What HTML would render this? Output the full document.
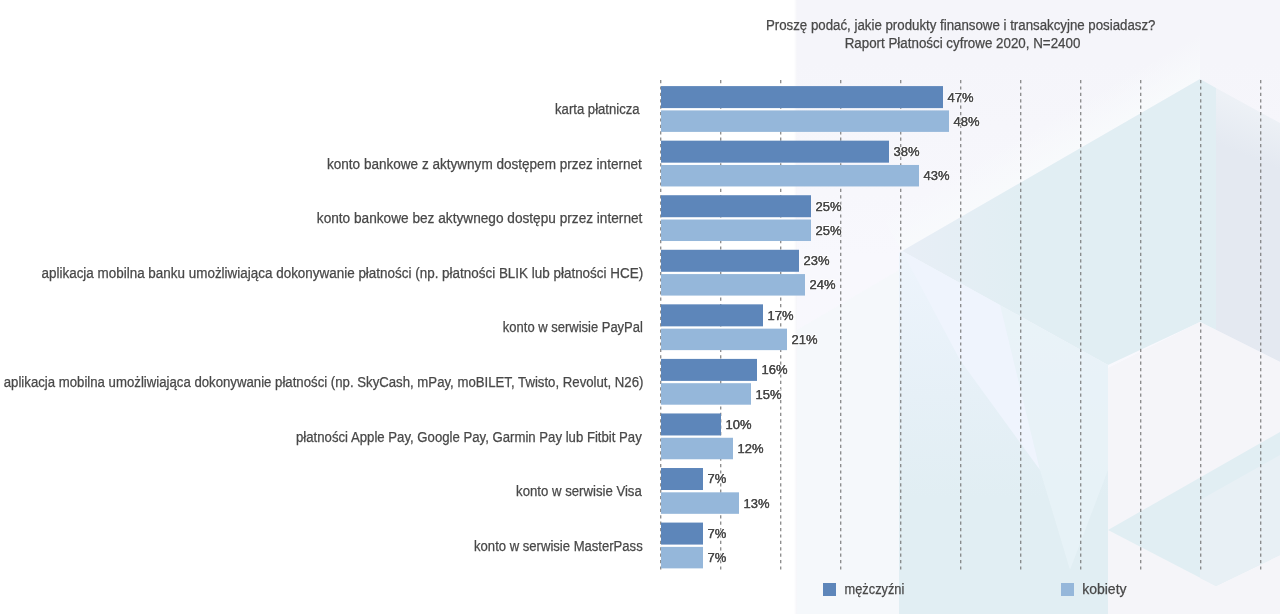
<!DOCTYPE html><html><head><meta charset="utf-8"><style>html,body{margin:0;padding:0;background:#fff;}body{width:1280px;height:614px;overflow:hidden;position:relative;}svg{position:absolute;left:0;top:0;will-change:transform;}text{font-family:"Liberation Sans",sans-serif;fill:#484848;stroke:#484848;stroke-width:0.25px;}text.v{stroke:#ffffff;stroke-width:2px;paint-order:stroke;stroke-opacity:0.8;}</style></head><body>
<svg width="1280" height="614" viewBox="0 0 1280 614">
<defs><linearGradient id="basegrad" x1="0" x2="0" y1="0" y2="1"><stop offset="0.1" stop-color="#f5f5fa"/><stop offset="0.42" stop-color="#f8f8fd"/><stop offset="1" stop-color="#f8f8fc"/></linearGradient><linearGradient id="edge" x1="0" x2="1" y1="0" y2="0"><stop offset="0" stop-color="#ffffff"/><stop offset="1" stop-color="#f5f5f9"/></linearGradient><linearGradient id="hl" gradientUnits="userSpaceOnUse" x1="1031" y1="130.4" x2="1051" y2="165"><stop offset="0" stop-color="#f8fafc" stop-opacity="0"/><stop offset="1" stop-color="#f8fafc" stop-opacity="1"/></linearGradient><linearGradient id="rf" gradientUnits="userSpaceOnUse" x1="1250" y1="106" x2="1232" y2="150"><stop offset="0" stop-color="#edf1f6"/><stop offset="1" stop-color="#e4e9f1"/></linearGradient><linearGradient id="face" gradientUnits="userSpaceOnUse" x1="902" y1="0" x2="1020" y2="0"><stop offset="0" stop-color="#e8eef6"/><stop offset="1" stop-color="#e1eef3"/></linearGradient><linearGradient id="strip" gradientUnits="userSpaceOnUse" x1="0" y1="260" x2="0" y2="600"><stop offset="0" stop-color="#edf4fc"/><stop offset="0.4" stop-color="#e6f0f7"/><stop offset="0.7" stop-color="#e1eef3"/></linearGradient></defs>
<rect x="0" y="0" width="1280" height="614" fill="#ffffff"/>
<rect x="797" y="0" width="483" height="614" fill="url(#basegrad)"/>
<rect x="794" y="0" width="3" height="614" fill="url(#edge)"/>
<g id="bgshapes"><polygon points="797,330 899,270 899,614 797,614" fill="#f4f9fa" opacity="0.6"/>
<polygon points="1200,79 902,251 882,216.4 1180,44.4 1200,30" fill="url(#hl)"/>
<polygon points="1200,79 902,251 1108,365 1200,322 1216,330 1216,88" fill="url(#face)"/>
<polygon points="1216,88 1280,123 1280,362 1216,330" fill="url(#rf)"/>
<polygon points="902,251 1108,365 1108,614 899,614 899,253" fill="url(#strip)"/>
<polygon points="1108,365 1108,470 1070,570 1040,470 1000,305" fill="#e9f3f8" opacity="0.8"/>
<polygon points="902,251 1000,305 1040,470 960,360" fill="#eff4fd"/>
<polygon points="1108,368 1200,322 1280,362 1280,614 1108,614" fill="#f5f5f9"/>
<polygon points="1108,530 1280,432 1280,555 1216,586" fill="#e1eef3"/>
<polygon points="1200,500 1280,455 1280,555 1216,586 1200,578" fill="#e8f0f5"/>
</g>
<line x1="660.75" y1="80" x2="660.75" y2="570" stroke="#747474" stroke-width="1.1" stroke-dasharray="3.2 3.2"/>
<line x1="720.75" y1="80" x2="720.75" y2="570" stroke="#747474" stroke-width="1.1" stroke-dasharray="3.2 3.2"/>
<line x1="780.75" y1="80" x2="780.75" y2="570" stroke="#747474" stroke-width="1.1" stroke-dasharray="3.2 3.2"/>
<line x1="840.75" y1="80" x2="840.75" y2="570" stroke="#747474" stroke-width="1.1" stroke-dasharray="3.2 3.2"/>
<line x1="900.75" y1="80" x2="900.75" y2="570" stroke="#747474" stroke-width="1.1" stroke-dasharray="3.2 3.2"/>
<line x1="960.75" y1="80" x2="960.75" y2="570" stroke="#747474" stroke-width="1.1" stroke-dasharray="3.2 3.2"/>
<line x1="1020.75" y1="80" x2="1020.75" y2="570" stroke="#747474" stroke-width="1.1" stroke-dasharray="3.2 3.2"/>
<line x1="1080.75" y1="80" x2="1080.75" y2="570" stroke="#747474" stroke-width="1.1" stroke-dasharray="3.2 3.2"/>
<line x1="1140.75" y1="80" x2="1140.75" y2="570" stroke="#747474" stroke-width="1.1" stroke-dasharray="3.2 3.2"/>
<line x1="1200.75" y1="80" x2="1200.75" y2="570" stroke="#747474" stroke-width="1.1" stroke-dasharray="3.2 3.2"/>
<line x1="1260.75" y1="80" x2="1260.75" y2="570" stroke="#747474" stroke-width="1.1" stroke-dasharray="3.2 3.2"/>
<rect x="661" y="86.10" width="282.00" height="22" fill="#5d86ba"/>
<rect x="661" y="110.40" width="288.00" height="21.5" fill="#95b7da"/>
<rect x="661" y="140.66" width="228.00" height="22" fill="#5d86ba"/>
<rect x="661" y="164.96" width="258.00" height="21.5" fill="#95b7da"/>
<rect x="661" y="195.22" width="150.00" height="22" fill="#5d86ba"/>
<rect x="661" y="219.52" width="150.00" height="21.5" fill="#95b7da"/>
<rect x="661" y="249.78" width="138.00" height="22" fill="#5d86ba"/>
<rect x="661" y="274.08" width="144.00" height="21.5" fill="#95b7da"/>
<rect x="661" y="304.34" width="102.00" height="22" fill="#5d86ba"/>
<rect x="661" y="328.64" width="126.00" height="21.5" fill="#95b7da"/>
<rect x="661" y="358.90" width="96.00" height="22" fill="#5d86ba"/>
<rect x="661" y="383.20" width="90.00" height="21.5" fill="#95b7da"/>
<rect x="661" y="413.46" width="60.00" height="22" fill="#5d86ba"/>
<rect x="661" y="437.76" width="72.00" height="21.5" fill="#95b7da"/>
<rect x="661" y="468.02" width="42.00" height="22" fill="#5d86ba"/>
<rect x="661" y="492.32" width="78.00" height="21.5" fill="#95b7da"/>
<rect x="661" y="522.58" width="42.00" height="22" fill="#5d86ba"/>
<rect x="661" y="546.88" width="42.00" height="21.5" fill="#95b7da"/>
<text x="947.50" y="101.50" font-size="13" class="v">47%</text>
<text x="953.50" y="125.80" font-size="13" class="v">48%</text>
<text x="947.50" y="101.50" font-size="13" class="">47%</text>
<text x="953.50" y="125.80" font-size="13" class="">48%</text>
<text x="893.50" y="156.06" font-size="13" class="v">38%</text>
<text x="923.50" y="180.36" font-size="13" class="v">43%</text>
<text x="893.50" y="156.06" font-size="13" class="">38%</text>
<text x="923.50" y="180.36" font-size="13" class="">43%</text>
<text x="815.50" y="210.62" font-size="13" class="v">25%</text>
<text x="815.50" y="234.92" font-size="13" class="v">25%</text>
<text x="815.50" y="210.62" font-size="13" class="">25%</text>
<text x="815.50" y="234.92" font-size="13" class="">25%</text>
<text x="803.50" y="265.18" font-size="13" class="v">23%</text>
<text x="809.50" y="289.48" font-size="13" class="v">24%</text>
<text x="803.50" y="265.18" font-size="13" class="">23%</text>
<text x="809.50" y="289.48" font-size="13" class="">24%</text>
<text x="767.50" y="319.74" font-size="13" class="v">17%</text>
<text x="791.50" y="344.04" font-size="13" class="v">21%</text>
<text x="767.50" y="319.74" font-size="13" class="">17%</text>
<text x="791.50" y="344.04" font-size="13" class="">21%</text>
<text x="761.50" y="374.30" font-size="13" class="v">16%</text>
<text x="755.50" y="398.60" font-size="13" class="v">15%</text>
<text x="761.50" y="374.30" font-size="13" class="">16%</text>
<text x="755.50" y="398.60" font-size="13" class="">15%</text>
<text x="725.50" y="428.86" font-size="13" class="v">10%</text>
<text x="737.50" y="453.16" font-size="13" class="v">12%</text>
<text x="725.50" y="428.86" font-size="13" class="">10%</text>
<text x="737.50" y="453.16" font-size="13" class="">12%</text>
<text x="707.50" y="483.42" font-size="13" class="v">7%</text>
<text x="743.50" y="507.72" font-size="13" class="v">13%</text>
<text x="707.50" y="483.42" font-size="13" class="">7%</text>
<text x="743.50" y="507.72" font-size="13" class="">13%</text>
<text x="707.50" y="537.98" font-size="13" class="v">7%</text>
<text x="707.50" y="562.28" font-size="13" class="v">7%</text>
<text x="707.50" y="537.98" font-size="13" class="">7%</text>
<text x="707.50" y="562.28" font-size="13" class="">7%</text>
<text x="555.06" y="114.20" font-size="14.0" textLength="84.56" lengthAdjust="spacingAndGlyphs">karta płatnicza</text>
<text x="327.03" y="168.76" font-size="14.0" textLength="314.77" lengthAdjust="spacingAndGlyphs">konto bankowe z aktywnym dostępem przez internet</text>
<text x="316.82" y="223.32" font-size="14.0" textLength="325.57" lengthAdjust="spacingAndGlyphs">konto bankowe bez aktywnego dostępu przez internet</text>
<text x="41.50" y="277.88" font-size="14.0" textLength="601.64" lengthAdjust="spacingAndGlyphs">aplikacja mobilna banku umożliwiająca dokonywanie płatności (np. płatności BLIK lub płatności HCE)</text>
<text x="502.87" y="332.44" font-size="14.0" textLength="140.01" lengthAdjust="spacingAndGlyphs">konto w serwisie PayPal</text>
<text x="3.75" y="387.00" font-size="14.0" textLength="639.70" lengthAdjust="spacingAndGlyphs">aplikacja mobilna umożliwiająca dokonywanie płatności (np. SkyCash, mPay, moBILET, Twisto, Revolut, N26)</text>
<text x="296.06" y="441.56" font-size="14.0" textLength="345.73" lengthAdjust="spacingAndGlyphs">płatności Apple Pay, Google Pay, Garmin Pay lub Fitbit Pay</text>
<text x="516.06" y="496.12" font-size="14.0" textLength="125.74" lengthAdjust="spacingAndGlyphs">konto w serwisie Visa</text>
<text x="474.07" y="550.68" font-size="14.0" textLength="168.62" lengthAdjust="spacingAndGlyphs">konto w serwisie MasterPass</text>
<text x="765.95" y="29.60" font-size="14.0" textLength="389.56" lengthAdjust="spacingAndGlyphs">Proszę podać, jakie produkty finansowe i transakcyjne posiadasz?</text>
<text x="844.65" y="48.00" font-size="14.0" textLength="235.74" lengthAdjust="spacingAndGlyphs">Raport Płatności cyfrowe 2020, N=2400</text>
<text x="844.59" y="593.60" font-size="14.0" textLength="59.74" lengthAdjust="spacingAndGlyphs">mężczyźni</text>
<text x="1082.20" y="593.60" font-size="14.0" textLength="44.36" lengthAdjust="spacingAndGlyphs">kobiety</text>
<rect x="823" y="583" width="13" height="13" fill="#5d86ba"/>
<rect x="1061" y="583" width="13" height="13" fill="#95b7da"/>
</svg></body></html>
